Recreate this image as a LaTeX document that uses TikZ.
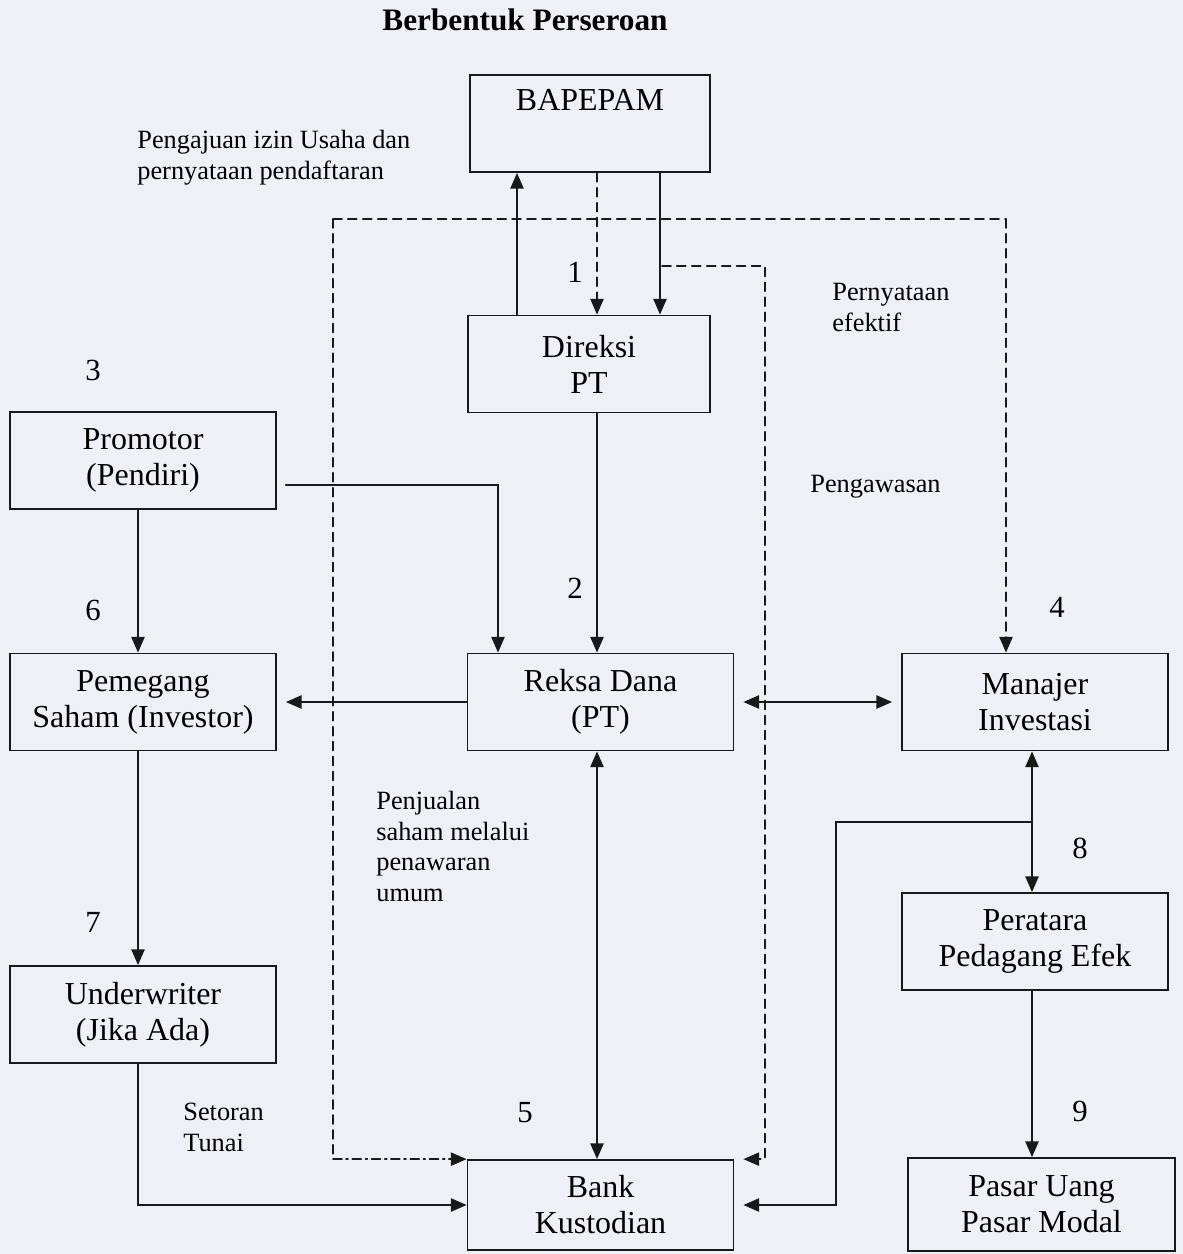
\documentclass[tikz,border=0pt]{standalone}
\usepackage{fontspec}
\setmainfont{Liberation Serif}
\usetikzlibrary{arrows.meta}
\definecolor{kertas}{rgb}{0.93,0.945,0.965}
\definecolor{tinta}{rgb}{0.1,0.1,0.1}

\begin{document}
\begin{tikzpicture}[x=0.02cm, y=-0.02cm, >={Triangle[length=9pt,width=7.5pt]}, line cap=round,
  kotak/.style={draw=tinta, line width=1pt, minimum width=5.32cm, minimum height=1.94cm,
    align=center, inner sep=0pt, font=\fontsize{18.2}{20.5}\selectfont},
  ket/.style={anchor=west, align=left, inner sep=0pt, font=\fontsize{15}{17.6}\selectfont},
  nomor/.style={inner sep=0pt, font=\fontsize{17.5}{20}\selectfont},
  garis/.style={draw=tinta, line width=1.2pt},
  putus/.style={draw=tinta, line width=1.1pt, dash pattern=on 5pt off 3.5pt},
  titiktitik/.style={draw=tinta, line width=1.1pt, dash pattern=on 5pt off 2.5pt on 1pt off 2.5pt}]
% latar
\fill[kertas] (0,0) rectangle (1183,1254);
\useasboundingbox (0,0) rectangle (1183,1254);
% judul
\node[inner sep=0pt, font=\fontsize{17.8}{20}\selectfont\bfseries] (judul) at (525,20) {Berbentuk Perseroan};
% kotak
\node[kotak, minimum width=4.8cm] (bapepam) at (590,123.5) {BAPEPAM\\\strut};
\node[kotak, minimum width=4.84cm] (direksi) at (589,364) {Direksi\\PT};
\node[kotak] (promotor) at (143,460.5) {Promotor\\(Pendiri)};
\node[kotak] (pemegang) at (143,702) {Pemegang\\Saham (Investor)};
\node[kotak] (reksa) at (600.5,702) {Reksa Dana\\(PT)};
\node[kotak] (manajer) at (1035,702) {Manajer\\Investasi};
\node[kotak] (peratara) at (1035,941.5) {Peratara\\Pedagang Efek};
\node[kotak] (underwriter) at (143,1014.5) {Underwriter\\(Jika Ada)};
\node[kotak, minimum height=1.8cm] (bank) at (600.5,1205) {Bank\\Kustodian};
\node[kotak, minimum width=5.34cm, minimum height=1.86cm] (pasar) at (1041.5,1204.5) {Pasar Uang\\Pasar Modal};
% titik bantu
\coordinate (naik) at (517,0);
\coordinate (turun) at (597,0);
\coordinate (turunb) at (660,0);
\coordinate (awaskiri) at (333,219);
\coordinate (awaskanan) at (1006,219);
\coordinate (efektif) at (662,266);
\coordinate (efektifb) at (765,266);
\coordinate (pendiri) at (498,485);
\coordinate (cabang) at (1032,822);
\coordinate (cabangb) at (836,822);
% BAPEPAM - Direksi
\draw[garis, ->] (direksi.north -| naik) -- (bapepam.south -| naik);
\draw[putus, ->] (bapepam.south -| turun) -- (direksi.north -| turun);
\draw[garis, ->] (bapepam.south -| turunb) -- (direksi.north -| turunb);
% pengawasan
\draw[putus] (awaskiri) -- (awaskanan);
\draw[putus, ->] (awaskanan) -- (manajer.north -| awaskanan);
\draw[putus] (awaskiri) -- (awaskiri |- bank.north west);
\draw[titiktitik, ->] (awaskiri |- bank.north west) -- (bank.north west);
\draw[putus, ->, shorten >=0.18cm] (efektif) -- (efektifb) |- (bank.north east);
% aliran
\draw[garis, ->, shorten <=0.18cm] (promotor.east |- pendiri) -- (pendiri) -- (reksa.north -| pendiri);
\draw[garis, ->] (direksi.south -| turun) -- (reksa.north -| turun);
\draw[garis, ->] (promotor.south -| 138,0) -- (pemegang.north -| 138,0);
\draw[garis, ->, shorten >=0.18cm] (reksa.west) -- (pemegang.east);
\draw[garis, <->, shorten >=0.18cm, shorten <=0.18cm] (reksa.east) -- (manajer.west);
\draw[garis, ->] (pemegang.south -| 138,0) -- (underwriter.north -| 138,0);
\draw[garis, ->] (underwriter.south -| 138,0) |- (bank.west);
\draw[garis, <->] (reksa.south -| turun) -- (bank.north -| turun);
\draw[garis, <->] (manajer.south -| cabang) -- (peratara.north -| cabang);
\draw[garis, ->, shorten >=0.18cm] (cabang) -- (cabangb) |- (bank.east);
\draw[garis, ->] (peratara.south -| cabang) -- (pasar.north -| cabang);
% keterangan
\node[ket] (izin) at (137,158) {Pengajuan izin Usaha dan\\pernyataan pendaftaran};
\node[ket] (pernyataan) at (832,307.5) {Pernyataan\\efektif};
\node[ket] (awas) at (810,487) {Pengawasan};
\node[ket] (jual) at (376,846.5) {Penjualan\\saham melalui\\penawaran\\umum};
\node[ket] (setoran) at (183,1127.5) {Setoran\\Tunai};
% nomor
\node[nomor] (n1) at (575,272) {1};
\node[nomor] (n2) at (575,588) {2};
\node[nomor] (n3) at (93,370) {3};
\node[nomor] (n4) at (1057,607) {4};
\node[nomor] (n5) at (525,1113) {5};
\node[nomor] (n6) at (93,610) {6};
\node[nomor] (n7) at (93,922) {7};
\node[nomor] (n8) at (1080,848) {8};
\node[nomor] (n9) at (1080,1111) {9};
\end{tikzpicture}
\end{document}
